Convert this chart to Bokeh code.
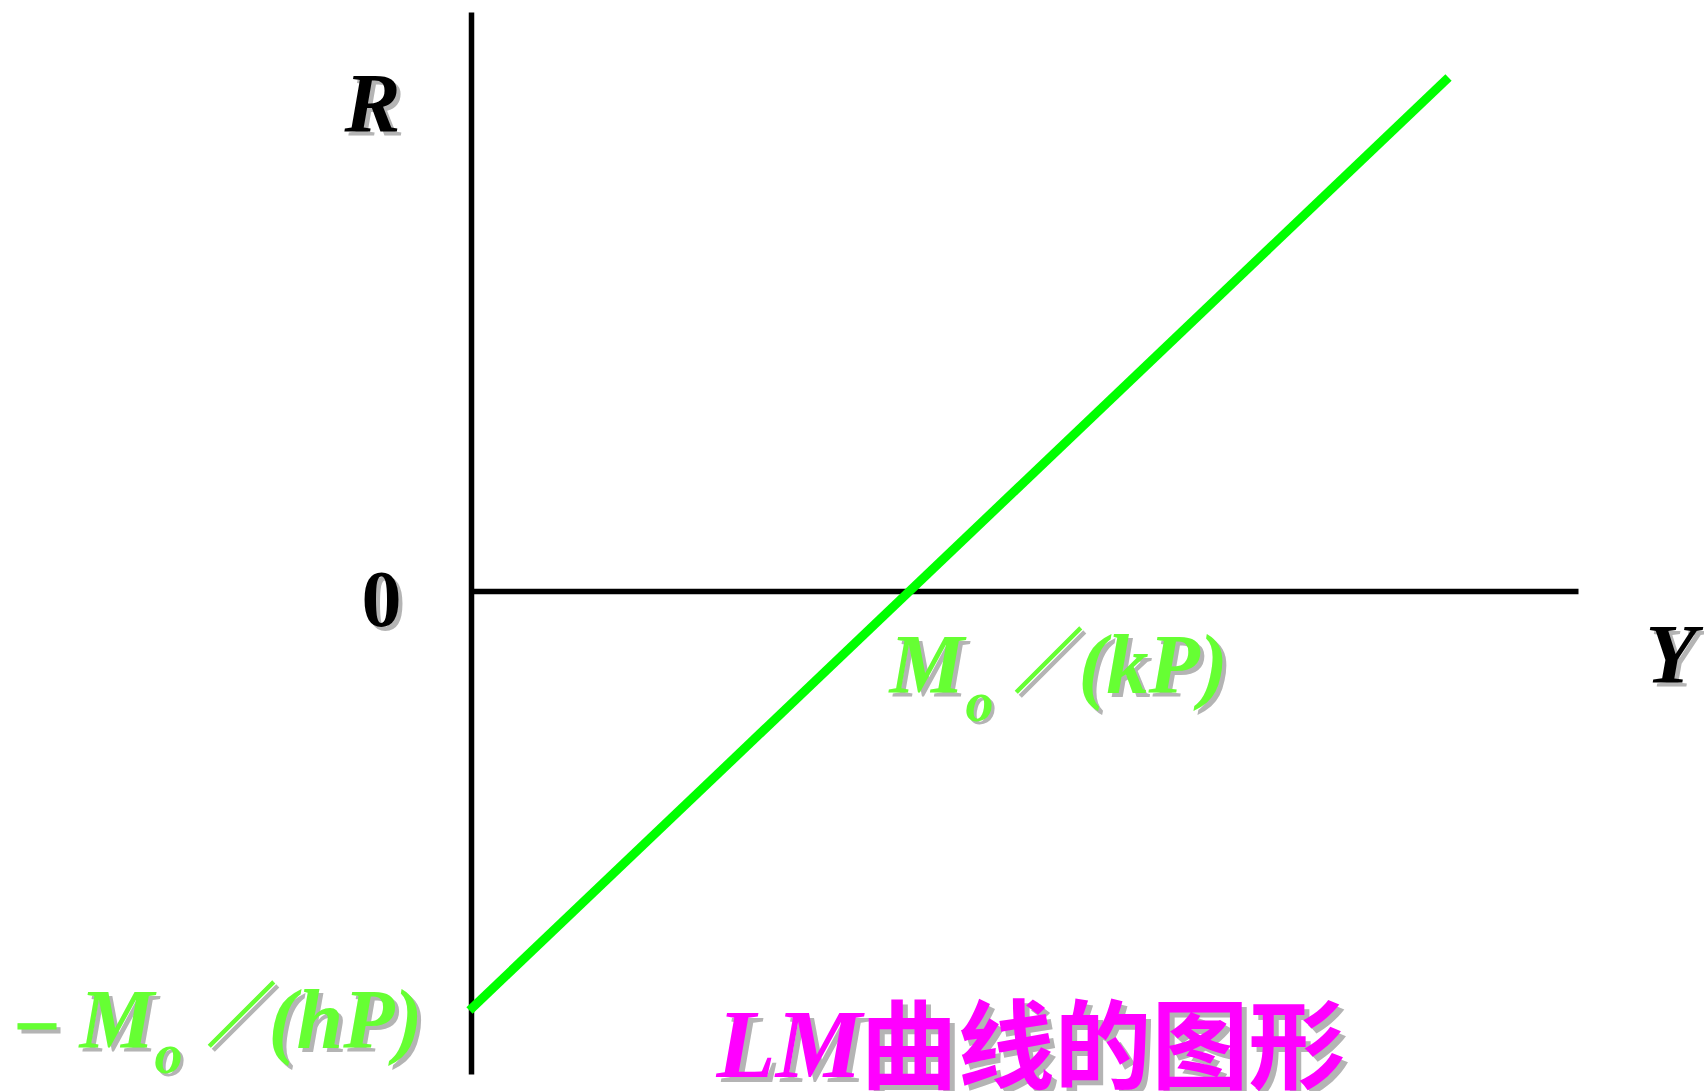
from bokeh.plotting import figure
from bokeh.models import Range1d, Text
from bokeh.core.properties import value
from bokeh.embed import file_html
from bokeh.resources import INLINE

# ---- data (schematic units; origin at the axes' intersection) ----
r_axis_y = [-4.83, 5.79]      # vertical (R) axis extent
y_axis_x = [0.0, 11.07]       # horizontal (Y) axis extent
lm_x = [-0.02, 9.77]          # LM curve end points
lm_y = [-4.19, 5.14]

axis_label_r = "R"
axis_label_y = "Y"
origin_label = "0"
x_int_parts = ["M", "o", "／", "(kP)"]
y_int_parts = ["–", "M", "o", "／", "(hP)"]
title_latin = "LM"
title_cjk = "曲线的图形"

SERIF = "Liberation Serif"
CJK = "Noto Sans CJK SC"
SHADOW = "#b4b4b4"
LABEL_GREEN = "#66ff33"
HAS_OUTLINE = "text_outline_color" in Text.properties()

p = figure(width=1704, height=1091, output_backend="svg", toolbar_location=None,
           x_range=Range1d(-4.71, 12.33), y_range=Range1d(-5.00, 5.91),
           min_border=0, x_axis_location=None, y_axis_location=None)
p.grid.visible = False
p.outline_line_color = None
p.background_fill_color = "white"
p.border_fill_color = "white"

# axes
p.line(x=[0, 0], y=r_axis_y, line_color="black", line_width=5.5)
p.line(x=y_axis_x, y=[0, 0], line_color="black", line_width=5.5)
# LM curve
p.line(x=lm_x, y=lm_y, line_color="#00ff00", line_width=9)


def label(x, y, txt, font, style, size, color, align="left", off=4, thick=False):
    common = dict(text_font=value(font), text_font_style=style,
                  text_font_size=f"{size}px", text_align=align,
                  text_baseline="alphabetic")
    lift = -0.35 * size
    extra_s, extra_c = {}, {}
    if thick and HAS_OUTLINE:
        extra_s = dict(text_outline_color=SHADOW)
        extra_c = dict(text_outline_color=color)
    p.text(x=[x], y=[y], text=[txt], text_color=SHADOW,
           x_offset=off, y_offset=off + lift, **common, **extra_s)
    p.text(x=[x], y=[y], text=[txt], text_color=color,
           x_offset=0, y_offset=lift, **common, **extra_c)


# axis labels
label(-1.27, 4.59, axis_label_r, SERIF, "bold italic", 84, "black")
label(-0.90, -0.36, origin_label, SERIF, "bold", 80, "black", align="center")
label(11.74, -0.92, axis_label_y, SERIF, "bold italic", 84, "black")

# x-intercept label  M_o / (kP)
label(4.18, -1.02, x_int_parts[0], SERIF, "bold italic", 84, LABEL_GREEN)
label(4.94, -1.30, x_int_parts[1], SERIF, "bold italic", 56, LABEL_GREEN, off=3)
label(5.42, -0.89, x_int_parts[2], CJK, "bold", 70, LABEL_GREEN, thick=True)
label(6.07, -1.02, x_int_parts[3], SERIF, "bold italic", 84, LABEL_GREEN)

# y-intercept label  - M_o / (hP)
label(-4.53, -4.53, y_int_parts[0], SERIF, "bold", 74, LABEL_GREEN, thick=True)
label(-3.92, -4.57, y_int_parts[1], SERIF, "bold italic", 84, LABEL_GREEN)
label(-3.17, -4.82, y_int_parts[2], SERIF, "bold italic", 56, LABEL_GREEN, off=3)
label(-2.65, -4.43, y_int_parts[3], CJK, "bold", 70, LABEL_GREEN, thick=True)
label(-2.03, -4.57, y_int_parts[4], SERIF, "bold italic", 84, LABEL_GREEN)

# title
label(2.45, -4.87, title_latin, SERIF, "bold italic", 97, "#ff00ff", off=5)
label(3.89, -4.81, title_cjk, CJK, "bold", 97, "#ff00ff", off=5)

open("out.html", "w").write(file_html(p, INLINE))
